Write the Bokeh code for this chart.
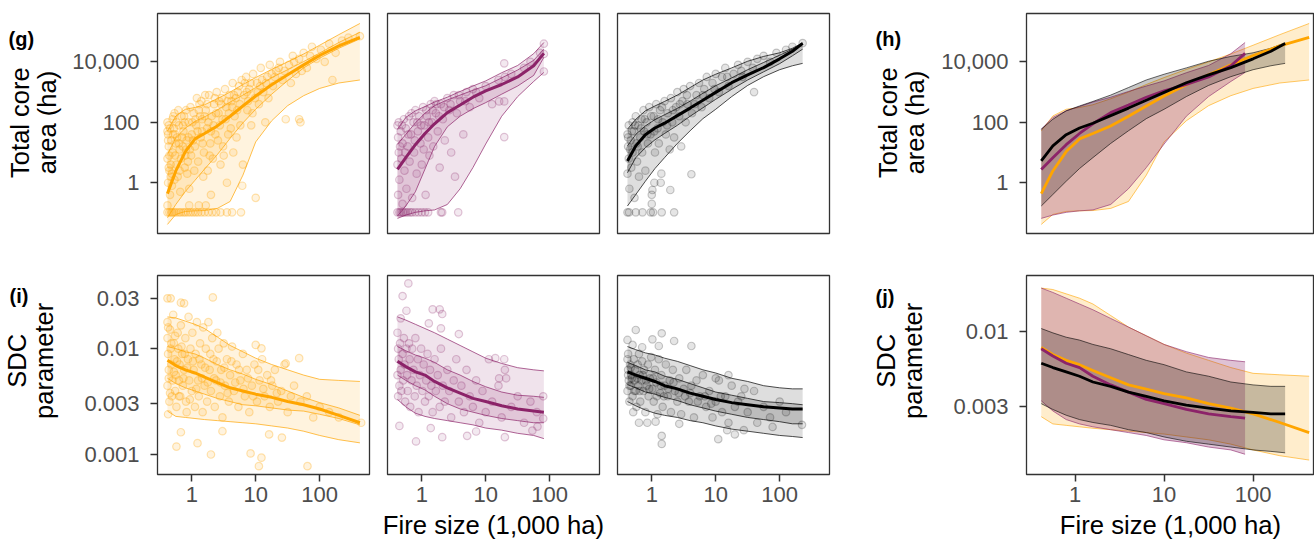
import math
from bokeh.plotting import figure
from bokeh.layouts import row, column
from bokeh.models import Range1d, FixedTicker, NumeralTickFormatter
from bokeh.core.properties import value
from bokeh.embed import file_html
from bokeh.resources import INLINE

ORANGE = "#FFA500"
PURPLE = "#8C2369"
BLACK = "#000000"
FONT = "Liberation Sans"

x_ticks = [1, 10, 100]
core_ticks = [1, 100, 10000]
sdc_ticks = [0.001, 0.003, 0.01, 0.03]
sdc_ticks_j = [0.003, 0.01]
x_title = "Fire size (1,000 ha)"
core_title = ["Total core", "area (ha)"]
sdc_title = ["SDC", "parameter"]
panel_letters = ["(g)", "(h)", "(i)", "(j)"]

# ---------------- fitted curves (log10 values) ----------------
grid_orange_log10 = [-0.38, -0.25, -0.1, 0.05, 0.2, 0.4, 0.6, 0.8, 1.0, 1.25, 1.5, 1.75, 2.0, 2.3, 2.63]
grid_purple_log10 = [-0.38, -0.25, -0.1, 0.05, 0.2, 0.4, 0.6, 0.8, 1.0, 1.25, 1.5, 1.75, 1.91]
grid_black_log10 = [-0.38, -0.25, -0.1, 0.05, 0.2, 0.4, 0.6, 0.8, 1.0, 1.25, 1.5, 1.75, 2.0, 2.2, 2.36]

core_orange_med = [-0.36, 0.39, 1.03, 1.45, 1.63, 1.88, 2.2, 2.54, 2.87, 3.24, 3.57, 3.90, 4.21, 4.53, 4.81]
core_orange_hi95 = [1.71, 2.21, 2.43, 2.49, 2.58, 2.78, 3.0, 3.25, 3.48, 3.75, 4.0, 4.26, 4.55, 4.9, 5.27]
core_orange_hi50 = [0.94, 1.49, 1.81, 2.03, 2.18, 2.41, 2.67, 2.9, 3.15, 3.48, 3.74, 4.01, 4.29, 4.64, 4.98]
core_orange_lo50 = [-1.16, -0.72, -0.29, 0.08, 0.45, 0.93, 1.47, 1.98, 2.43, 2.93, 3.38, 3.8, 4.12, 4.45, 4.76]
core_orange_lo95 = [-1.38, -1.05, -0.95, -0.93, -0.92, -0.85, -0.62, 0.25, 1.35, 2.05, 2.55, 2.88, 3.12, 3.3, 3.4]

core_purple_med = [0.44, 0.83, 1.26, 1.63, 1.95, 2.32, 2.57, 2.83, 3.04, 3.25, 3.5, 3.87, 4.28]
core_purple_hi95 = [1.77, 2.16, 2.38, 2.52, 2.67, 2.83, 3.02, 3.2, 3.37, 3.64, 3.88, 4.27, 4.64]
core_purple_hi50 = [1.27, 1.6, 1.98, 2.3, 2.55, 2.74, 2.9, 3.06, 3.21, 3.47, 3.73, 4.05, 4.42]
core_purple_lo50 = [-1.1, -0.77, -0.3, 0.45, 1.2, 1.85, 2.2, 2.45, 2.65, 2.93, 3.2, 3.55, 4.15]
core_purple_lo95 = [-1.18, -1.07, -0.98, -0.93, -0.9, -0.72, -0.2, 0.5, 1.28, 2.2, 2.85, 3.35, 3.65]

core_black_med = [0.72, 1.22, 1.59, 1.81, 1.97, 2.22, 2.47, 2.73, 2.99, 3.31, 3.57, 3.81, 4.1, 4.35, 4.61]
core_black_hi95 = [1.77, 2.1, 2.38, 2.54, 2.69, 2.9, 3.15, 3.4, 3.59, 3.8, 4.02, 4.18, 4.3, 4.45, 4.63]
core_black_hi50 = [1.22, 1.6, 1.88, 2.09, 2.25, 2.46, 2.7, 2.96, 3.21, 3.47, 3.74, 3.98, 4.22, 4.42, 4.6]
core_black_lo50 = [0.33, 0.83, 1.16, 1.42, 1.63, 1.9, 2.2, 2.48, 2.76, 3.09, 3.4, 3.67, 3.94, 4.2, 4.42]
core_black_lo95 = [-0.77, -0.39, 0.05, 0.47, 0.83, 1.3, 1.72, 2.12, 2.43, 2.85, 3.22, 3.51, 3.74, 3.87, 3.95]

sdc_orange_med = [-2.11, -2.16, -2.20, -2.23, -2.27, -2.32, -2.37, -2.40, -2.43, -2.46, -2.50, -2.53, -2.57, -2.63, -2.70]
sdc_orange_hi95 = [-1.70, -1.71, -1.74, -1.77, -1.81, -1.89, -1.97, -2.03, -2.09, -2.15, -2.20, -2.25, -2.29, -2.30, -2.31]
sdc_orange_hi50 = [-1.98, -2.00, -2.03, -2.05, -2.09, -2.15, -2.20, -2.24, -2.29, -2.34, -2.40, -2.46, -2.51, -2.56, -2.63]
sdc_orange_lo50 = [-2.28, -2.33, -2.37, -2.40, -2.43, -2.47, -2.50, -2.53, -2.54, -2.56, -2.58, -2.59, -2.62, -2.66, -2.72]
sdc_orange_lo95 = [-2.59, -2.64, -2.65, -2.66, -2.67, -2.68, -2.69, -2.70, -2.71, -2.73, -2.75, -2.78, -2.82, -2.86, -2.89]

sdc_purple_med = [-2.12, -2.17, -2.22, -2.25, -2.31, -2.37, -2.42, -2.47, -2.50, -2.54, -2.57, -2.59, -2.60]
sdc_purple_hi95 = [-1.70, -1.73, -1.77, -1.81, -1.85, -1.91, -1.97, -2.03, -2.09, -2.14, -2.18, -2.20, -2.21]
sdc_purple_hi50 = [-1.98, -2.02, -2.06, -2.09, -2.13, -2.20, -2.25, -2.31, -2.36, -2.41, -2.44, -2.45, -2.46]
sdc_purple_lo50 = [-2.25, -2.30, -2.35, -2.39, -2.45, -2.52, -2.57, -2.60, -2.63, -2.66, -2.68, -2.70, -2.70]
sdc_purple_lo95 = [-2.48, -2.55, -2.61, -2.64, -2.66, -2.68, -2.70, -2.72, -2.75, -2.77, -2.80, -2.82, -2.85]

sdc_black_med = [-2.22, -2.25, -2.28, -2.31, -2.35, -2.38, -2.42, -2.45, -2.48, -2.51, -2.53, -2.55, -2.56, -2.57, -2.57]
sdc_black_hi95 = [-1.98, -2.01, -2.04, -2.06, -2.09, -2.12, -2.16, -2.20, -2.23, -2.28, -2.31, -2.35, -2.37, -2.38, -2.38]
sdc_black_hi50 = [-2.13, -2.16, -2.20, -2.22, -2.26, -2.29, -2.33, -2.37, -2.41, -2.44, -2.47, -2.50, -2.51, -2.52, -2.53]
sdc_black_lo50 = [-2.34, -2.37, -2.41, -2.43, -2.46, -2.49, -2.53, -2.56, -2.59, -2.62, -2.65, -2.67, -2.69, -2.71, -2.71]
sdc_black_lo95 = [-2.50, -2.54, -2.58, -2.61, -2.63, -2.65, -2.68, -2.70, -2.73, -2.76, -2.78, -2.80, -2.82, -2.83, -2.84]

# ---------------- observed fires (log10 fire size, log10 value) ----------------
core_orange_pts = [
    (-0.38, -0.98), (-0.35, -0.98), (-0.32, -0.98), (-0.30, -0.98), (-0.27, -0.98), (-0.24, -0.98),
    (-0.20, -0.98), (-0.17, -0.98), (-0.13, -0.98), (-0.10, -0.98), (-0.06, -0.98), (-0.02, -0.98),
    (0.02, -0.98), (0.06, -0.98), (0.10, -0.98), (0.15, -0.98), (0.20, -0.98), (0.26, -0.98),
    (0.32, -0.98), (0.38, -0.98), (0.45, -0.98), (0.55, -0.98), (0.63, -0.98), (0.77, -0.98),
    (-0.38, -0.75), (-0.04, -0.75), (0.11, -0.75), (0.22, -0.75),
    (-0.38, 2.0), (-0.37, 1.6), (-0.36, 1.2), (-0.38, 0.8), (-0.35, 0.4), (-0.37, 0.0), (-0.34, -0.4),
    (-0.36, 1.9), (-0.32, 1.4), (-0.33, 0.6), (-0.30, 1.0), (-0.31, -0.1), (-0.30, 2.1),
    (-0.28, 1.8), (-0.27, 2.3), (-0.25, 1.3), (-0.24, 0.6), (-0.22, 0.2), (-0.20, 1.9), (-0.19, 1.1),
    (-0.18, -0.3), (-0.16, 2.2), (-0.15, 1.5), (-0.26, 0.9), (-0.21, 2.4),
    (-0.13, 1.7), (-0.12, 2.2), (-0.10, 0.9), (-0.08, 1.4), (-0.07, 0.3), (-0.05, 2.0), (-0.03, 1.1),
    (-0.02, 2.5), (0.00, 1.6), (-0.11, 0.5), (-0.04, -0.2),
    (0.03, 2.3), (0.05, 1.2), (0.07, 1.9), (0.10, 0.7), (0.12, 2.6), (0.14, 1.5), (0.16, 2.1),
    (0.18, 0.2), (0.19, 1.0), (0.08, 2.8), (0.15, 2.7),
    (0.22, 2.4), (0.24, 1.8), (0.27, 2.9), (0.29, 1.3), (0.31, 2.2), (0.33, 0.8), (0.35, 2.6),
    (0.37, 1.6), (0.39, 3.0), (0.25, 0.4), (0.30, -0.4),
    (0.42, 2.3), (0.44, 1.9), (0.47, 2.8), (0.49, 1.2), (0.52, 3.1), (0.54, 2.5), (0.57, 1.6),
    (0.59, 2.9), (0.45, 0.6), (0.55, 0.0),
    (0.62, 2.7), (0.64, 3.3), (0.67, 2.2), (0.70, 1.5), (0.72, 3.0), (0.75, 2.6), (0.78, 3.4),
    (0.65, 1.0), (0.80, 0.6),
    (0.82, 2.9), (0.85, 3.5), (0.87, 2.4), (0.90, 3.1), (0.93, 1.9), (0.96, 3.6), (0.99, 2.8),
    (1.02, 3.3), (1.05, 2.6), (1.08, 3.8), (1.12, 3.0), (1.15, 2.0), (1.18, 3.5), (1.22, 3.9), (1.27, 3.2),
    (1.32, 3.7), (1.38, 4.0), (1.42, 3.4), (1.47, 2.1), (1.52, 3.9), (1.58, 4.2), (1.63, 3.6), (1.68, 4.1),
    (1.75, 4.3), (1.80, 3.8), (1.88, 4.5), (1.95, 4.1), (2.02, 4.4), (1.70, 2.0),
    (2.15, 4.6), (2.25, 4.3), (2.35, 4.7), (2.45, 4.8), (2.63, 4.85), (2.20, 3.4),
    (1.68, 2.1), (1.00, -0.5), (0.79, -0.1),
    (-0.37, 1.4), (-0.35, 0.9), (-0.33, 0.2), (-0.29, 1.6), (-0.27, 0.1), (-0.23, 1.5), (-0.19, 0.4),
    (-0.14, 1.2), (-0.09, 2.4), (-0.06, 0.7), (0.01, 2.0), (0.04, 0.4), (0.09, 1.7), (0.13, 2.2),
    (0.17, 1.3), (0.21, 2.9), (0.26, 2.0), (0.28, 0.9), (0.34, 1.9), (0.36, 2.8), (0.41, 1.4),
    (0.46, 2.6), (0.50, 0.9), (0.53, 2.1), (0.58, 2.3), (0.61, 1.8), (0.66, 2.9), (0.71, 2.4),
    (0.76, 1.9), (0.83, 3.3), (0.88, 2.7), (0.95, 2.3), (1.03, 3.0), (1.10, 3.4), (1.20, 2.8),
    (1.30, 3.5), (1.45, 3.7), (1.55, 3.3), (1.72, 3.7), (1.85, 4.2), (2.08, 4.0),
    (-0.38, 1.7), (-0.36, 0.5), (-0.34, 1.8), (-0.31, 0.3), (-0.29, 2.2), (-0.26, 1.6), (-0.24, 2.0),
    (-0.20, 1.3), (-0.17, 0.8), (-0.14, 1.9), (-0.11, 2.0), (-0.09, 1.1), (-0.05, 1.5), (-0.01, 0.9),
    (0.02, 1.4), (0.06, 2.1), (0.11, 2.4), (0.16, 1.7), (0.20, 2.2), (0.24, 2.6), (0.30, 1.7),
    (0.38, 2.3), (0.43, 2.7), (0.48, 2.1), (0.56, 2.7), (0.63, 2.5), (0.69, 2.8), (0.74, 3.2),
    (0.86, 3.0), (0.92, 3.3), (1.07, 3.2), (1.16, 3.3), (1.25, 3.6), (1.36, 3.8), (1.60, 4.0),
]

core_purple_pts = [
    (-0.38, -0.98), (-0.35, -0.98), (-0.33, -0.98), (-0.30, -0.98), (-0.28, -0.98), (-0.25, -0.98),
    (-0.22, -0.98), (-0.18, -0.98), (-0.15, -0.98), (-0.10, -0.98), (-0.05, -0.98), (0.00, -0.98),
    (0.05, -0.98), (0.10, -0.98), (0.30, -0.98), (0.32, -0.98), (0.57, -0.98),
    (-0.38, 1.9), (-0.37, 1.5), (-0.36, 1.0), (-0.38, 0.6), (-0.35, 0.1), (-0.37, -0.4), (-0.33, 1.7),
    (-0.32, 0.8), (-0.30, 1.3), (-0.30, -0.7), (-0.28, 2.1), (-0.27, 0.4), (-0.25, 1.8), (-0.24, -0.2),
    (-0.22, 1.2), (-0.20, 2.2), (-0.19, 0.7), (-0.17, 1.6), (-0.15, -0.5), (-0.13, 2.0), (-0.12, 1.0),
    (-0.10, 2.4), (-0.08, 0.3), (-0.06, 1.7), (-0.04, 2.2), (-0.02, 1.3), (0.00, 0.6), (0.02, 2.5),
    (0.04, 1.9), (0.06, -0.4), (0.08, 2.2), (0.10, 1.5), (0.12, 0.9), (0.14, 2.6), (0.16, 2.0),
    (0.18, 1.2), (0.20, 2.7), (0.22, 2.3), (0.25, 1.7), (0.28, 0.5), (0.30, 2.6), (0.33, 2.1),
    (0.36, 1.4), (0.40, 2.8), (0.43, 2.4), (0.46, 1.0), (0.50, 2.9), (0.52, 0.2), (0.55, 2.3),
    (0.60, 2.7), (0.65, 1.6), (0.70, 3.0), (0.75, 2.5), (0.80, 3.1), (0.90, 2.8), (1.00, 3.2),
    (1.10, 2.6), (1.21, 2.69), (1.29, 2.69), (1.29, 1.51), (1.29, 3.95), (1.20, 3.4), (1.30, 3.5),
    (1.40, 3.6), (1.60, 3.8), (1.70, 4.0), (1.85, 4.3), (1.91, 4.6), (1.91, 3.68), (1.91, 4.26),
    (-0.36, 2.0), (-0.34, 1.2), (-0.31, 1.9), (-0.26, 1.0), (-0.21, 1.6), (-0.16, 2.3), (-0.11, 1.4),
    (-0.07, 2.0), (-0.01, 1.9), (0.03, 1.1), (0.07, 2.4), (0.11, 2.0), (0.17, 2.4), (0.23, 2.6),
    (0.27, 2.2), (0.35, 2.5), (0.45, 2.6), (0.58, 2.9), (0.68, 2.7), (0.85, 3.0),
]

core_black_pts = [
    (-0.38, -0.98), (-0.355, -0.98), (-0.25, -0.98), (-0.146, -0.98), (-0.016, -0.98), (0.02, -0.98),
    (0.156, -0.98), (0.35, -0.98),
    (-0.38, 1.6), (-0.37, 1.2), (-0.36, 0.8), (-0.38, 0.3), (-0.35, -0.2), (-0.36, 1.9), (-0.33, 1.4),
    (-0.32, 0.5), (-0.30, 2.0), (-0.30, 1.0), (-0.28, 1.7), (-0.27, -0.5), (-0.25, 2.2), (-0.24, 1.3),
    (-0.23, 0.7), (-0.21, 1.9), (-0.20, 0.2), (-0.18, 1.5), (-0.16, 2.1), (-0.15, 1.0), (-0.13, 2.4),
    (-0.12, 1.7), (-0.10, 0.4), (-0.08, 2.0), (-0.06, 1.3), (-0.04, 2.5), (-0.02, 1.6), (0.00, -0.4),
    (0.00, -0.7), (0.03, 2.2), (0.05, 1.0), (0.07, 2.6), (0.09, 1.8), (0.11, 1.3), (0.13, 2.4),
    (0.15, 0.3), (0.17, 2.0), (0.20, 2.7), (0.22, 1.6), (0.25, 2.3), (0.28, 1.1), (0.30, 2.8),
    (0.32, 2.0), (0.35, 1.5), (0.38, 2.5), (0.40, 3.0), (0.43, 2.2), (0.46, 1.2), (0.48, 2.7),
    (0.50, 3.1), (0.53, 2.0), (0.56, 2.6), (0.60, 3.2), (0.63, 2.3), (0.62, 0.28), (0.70, 2.9),
    (0.74, 3.3), (0.78, 2.5), (0.82, 3.1), (0.86, 3.5), (0.90, 2.8), (0.95, 3.3), (1.00, 3.6),
    (1.05, 3.0), (1.10, 3.5), (1.15, 3.8), (1.20, 3.2), (1.28, 3.6), (1.35, 3.9), (1.42, 3.5),
    (1.50, 4.0), (1.58, 3.8), (1.65, 4.1), (1.60, 3.0), (1.75, 4.2), (1.85, 4.0), (1.95, 4.3),
    (2.10, 4.4), (2.20, 4.5), (2.36, 4.62),
    (0.04, 0.0), (0.14, 0.0), (0.01, -0.24), (0.29, -0.24),
    (-0.37, 1.5), (-0.34, 1.1), (-0.31, 1.7), (-0.26, 1.9), (-0.22, 1.2), (-0.17, 1.8), (-0.11, 2.1),
    (-0.07, 1.6), (-0.01, 2.2), (0.04, 1.7), (0.10, 2.1), (0.16, 2.5), (0.24, 1.9), (0.33, 2.4),
    (0.44, 2.6), (0.55, 2.9), (0.67, 2.6), (0.80, 2.9), (0.98, 3.1), (1.18, 3.5), (1.40, 3.7),
]

sdc_orange_pts = [
    (-0.38, -1.525), (-0.33, -1.525), (-0.17, -1.566), (-0.12, -1.572), (0.33, -1.516),
    (-0.38, -1.75), (-0.38, -1.9), (-0.37, -2.05), (-0.36, -2.2), (-0.38, -2.35), (-0.35, -2.5),
    (-0.37, -2.62), (-0.34, -1.82), (-0.33, -2.0), (-0.32, -2.15), (-0.30, -2.3), (-0.31, -2.45),
    (-0.29, -1.68), (-0.28, -1.95), (-0.27, -2.1), (-0.26, -2.4), (-0.25, -2.25), (-0.24, -2.55),
    (-0.22, -1.85), (-0.21, -2.0), (-0.20, -2.3), (-0.19, -2.15), (-0.18, -2.45), (-0.17, -1.78),
    (-0.15, -2.05), (-0.14, -2.35), (-0.12, -2.2), (-0.10, -1.9), (-0.09, -2.5), (-0.08, -2.6),
    (-0.06, -2.1), (-0.05, -1.7), (-0.04, -2.3), (-0.02, -2.0), (0.00, -2.4), (0.01, -1.85),
    (0.03, -2.2), (0.05, -2.55), (0.06, -2.05), (0.08, -1.75), (0.10, -2.3), (0.11, -2.45),
    (0.13, -1.95), (0.15, -2.15), (0.17, -2.6), (0.18, -1.8), (0.20, -2.35), (0.22, -2.0),
    (0.24, -2.5), (0.26, -1.75), (0.28, -2.2), (0.30, -2.4), (0.32, -1.9), (0.34, -2.1),
    (0.36, -2.55), (0.38, -2.3), (0.40, -1.85), (0.42, -2.0), (0.44, -2.45), (0.46, -2.2),
    (0.48, -2.65), (0.50, -1.95), (0.52, -2.35), (0.55, -2.1), (0.58, -2.5), (0.60, -2.25),
    (0.63, -1.98), (0.66, -2.4), (0.70, -2.15), (0.73, -2.55), (0.76, -2.3), (0.80, -2.05),
    (0.83, -2.45), (0.86, -2.2), (0.90, -2.6), (0.94, -2.35), (0.98, -2.15), (1.02, -2.5),
    (1.06, -2.3), (1.10, -2.1), (1.14, -2.45), (1.18, -2.25), (1.22, -2.55), (1.26, -2.35),
    (1.30, -2.2), (1.35, -2.5), (1.40, -2.4), (1.45, -2.15), (1.50, -2.6), (1.60, -2.35),
    (1.70, -2.5), (1.80, -2.45), (1.90, -2.65), (2.00, -2.55), (2.15, -2.6), (2.30, -2.65), (2.65, -2.7),
    (-0.24, -2.925), (0.09, -2.893), (0.30, -3.0), (0.92, -2.99), (1.09, -3.03), (1.05, -3.11),
    (1.81, -3.11), (1.21, -2.81), (1.41, -2.84), (0.48, -2.78), (-0.17, -2.79),
    (1.68, -2.09), (1.00, -1.965), (1.09, -1.997), (1.47, -2.14),
    (-0.37, -1.8), (-0.36, -2.28), (-0.34, -2.42), (-0.32, -1.95), (-0.28, -2.22), (-0.26, -1.88),
    (-0.23, -2.12), (-0.20, -2.45), (-0.16, -1.98), (-0.13, -2.28), (-0.11, -2.05), (-0.07, -2.18),
    (-0.03, -2.48), (0.02, -2.12), (0.07, -2.38), (0.12, -2.1), (0.16, -2.28), (0.21, -2.18),
    (0.25, -2.32), (0.29, -2.05), (0.35, -2.28), (0.39, -2.12), (0.45, -2.32), (0.51, -2.18),
    (0.56, -2.42), (0.62, -2.12), (0.68, -2.32), (0.74, -2.2), (0.81, -2.38), (0.88, -2.28),
    (0.96, -2.45), (1.04, -2.2), (1.12, -2.38), (1.24, -2.3), (1.33, -2.42), (1.55, -2.45),
]

sdc_purple_pts = [
    (-0.21, -1.384), (-0.30, -1.503), (-0.24, -1.642), (0.17, -1.629), (0.28, -1.629), (0.32, -1.673),
    (0.30, -1.808), (0.58, -1.862), (-0.33, -1.714), (0.11, -1.761),
    (-0.38, -1.85), (-0.37, -2.0), (-0.36, -2.1), (-0.38, -2.25), (-0.35, -2.35), (-0.37, -2.45),
    (-0.34, -1.95), (-0.33, -2.2), (-0.32, -2.4), (-0.30, -2.05), (-0.29, -2.3), (-0.28, -1.9),
    (-0.27, -2.15), (-0.26, -2.5), (-0.24, -2.0), (-0.23, -2.25), (-0.22, -2.4), (-0.20, -1.95),
    (-0.19, -2.1), (-0.18, -2.55), (-0.16, -2.3), (-0.15, -2.0), (-0.13, -2.2), (-0.11, -2.45),
    (-0.10, -1.9), (-0.08, -2.35), (-0.06, -2.1), (-0.05, -2.6), (-0.03, -2.25), (-0.01, -2.0),
    (0.01, -2.4), (0.03, -2.15), (0.05, -2.5), (0.07, -2.3), (0.09, -2.05), (0.11, -2.45),
    (0.13, -2.2), (0.15, -2.35), (0.17, -2.6), (0.20, -2.1), (0.22, -2.4), (0.25, -2.25),
    (0.28, -2.55), (0.30, -2.0), (0.33, -2.35), (0.36, -2.5), (0.40, -2.2), (0.43, -2.4),
    (0.46, -2.65), (0.50, -2.3), (0.54, -2.1), (0.58, -2.5), (0.62, -2.35), (0.66, -2.6),
    (0.70, -2.2), (0.75, -2.45), (0.80, -2.55), (0.85, -2.3), (0.90, -2.7), (0.95, -2.4),
    (1.00, -2.6), (1.05, -2.1), (1.10, -2.5), (1.20, -2.35), (1.25, -2.65), (1.30, -2.2),
    (1.40, -2.55), (1.50, -2.45), (1.60, -2.7), (1.70, -2.5), (1.80, -2.6), (1.90, -2.45), (1.90, -2.66),
    (-0.35, -2.73), (-0.09, -2.877), (0.14, -2.75), (0.32, -2.836), (0.71, -2.824), (0.85, -2.783),
    (1.30, -2.836), (1.73, -2.774), (1.81, -2.736),
    (1.15, -2.09), (1.29, -2.10), (1.21, -2.28), (1.32, -2.28),
]

sdc_black_pts = [
    (-0.25, -1.824), (0.156, -1.855), (0.01, -1.912), (0.35, -1.928), (0.62, -1.975), (-0.38, -1.918),
    (-0.30, -1.965), (0.11, -1.975), (-0.15, -1.987),
    (0.156, -2.824), (0.156, -2.9), (1.04, -2.855), (-0.20, -2.70), (-0.07, -2.70), (0.06, -2.69),
    (0.43, -2.71), (1.18, -2.77), (1.30, -2.81), (1.44, -2.77), (2.35, -2.72), (1.89, -2.74),
    (-0.38, -2.1), (-0.37, -2.2), (-0.36, -2.3), (-0.38, -2.4), (-0.35, -2.5), (-0.37, -2.05),
    (-0.34, -2.15), (-0.33, -2.35), (-0.32, -2.25), (-0.30, -2.45), (-0.29, -2.6), (-0.28, -2.1),
    (-0.27, -2.3), (-0.26, -2.2), (-0.25, -2.4), (-0.24, -2.55), (-0.22, -2.15), (-0.21, -2.35),
    (-0.20, -2.05), (-0.19, -2.25), (-0.18, -2.5), (-0.16, -2.3), (-0.15, -2.12), (-0.13, -2.4),
    (-0.12, -2.2), (-0.10, -2.6), (-0.08, -2.35), (-0.06, -2.15), (-0.05, -2.45), (-0.03, -2.28),
    (-0.01, -2.08), (0.01, -2.38), (0.03, -2.5), (0.05, -2.2), (0.07, -2.32), (0.09, -2.62),
    (0.11, -2.1), (0.13, -2.42), (0.15, -2.25), (0.17, -2.55), (0.20, -2.35), (0.22, -2.15),
    (0.25, -2.45), (0.28, -2.3), (0.30, -2.6), (0.33, -2.2), (0.36, -2.4), (0.40, -2.5),
    (0.43, -2.28), (0.46, -2.62), (0.50, -2.38), (0.54, -2.2), (0.58, -2.5), (0.62, -2.35),
    (0.66, -2.65), (0.70, -2.3), (0.75, -2.45), (0.80, -2.25), (0.85, -2.55), (0.90, -2.4),
    (0.95, -2.65), (1.00, -2.5), (1.05, -2.3), (1.10, -2.6), (1.15, -2.45), (1.20, -2.7),
    (1.25, -2.35), (1.30, -2.55), (1.40, -2.45), (1.50, -2.6), (1.60, -2.4), (1.65, -2.7),
    (1.75, -2.55), (1.85, -2.65), (2.00, -2.5), (2.10, -2.6), (1.45, -2.38), (1.20, -2.25), (1.00, -2.28),
    (-0.37, -2.25), (-0.35, -2.35), (-0.33, -2.18), (-0.31, -2.28), (-0.27, -2.4), (-0.23, -2.28),
    (-0.19, -2.4), (-0.14, -2.25), (-0.09, -2.3), (-0.04, -2.38), (0.02, -2.28), (0.08, -2.45),
    (0.14, -2.35), (0.19, -2.45), (0.26, -2.38), (0.34, -2.32), (0.42, -2.42), (0.52, -2.45),
    (0.6, -2.42), (0.72, -2.5), (0.83, -2.45), (0.93, -2.52), (1.08, -2.45), (1.35, -2.5),
]

# ---------------- layout (log10 axis limits, pixel sizes) ----------------
X_LOG = (-0.536, 2.78)
X_LOG_R = (-0.546, 2.69)
CORE_LOG = (-1.68, 5.6)
SDC_LOG = (-3.189, -1.309)
SDC_J_LOG = (-2.99, -1.613)
H1, H2 = 248, 295


def P(v):
    return [10.0 ** t for t in v]


def base_fig(w, h, bl, br, bt, bb, xlog, ylog):
    p = figure(width=w, height=h, x_axis_type="log", y_axis_type="log",
               x_range=Range1d(10 ** xlog[0], 10 ** xlog[1]),
               y_range=Range1d(10 ** ylog[0], 10 ** ylog[1]),
               output_backend="svg", toolbar_location=None,
               min_border_left=bl, min_border_right=br, min_border_top=bt, min_border_bottom=bb)
    p.xgrid.visible = False
    p.ygrid.visible = False
    p.outline_line_color = "#333333"
    p.outline_line_width = 1.3
    p.outline_line_alpha = 1.0
    p.background_fill_color = "white"
    p.border_fill_color = "white"
    for ax in (p.xaxis[0], p.yaxis[0]):
        ax.axis_line_color = None
        ax.major_tick_line_color = "#333333"
        ax.major_tick_line_width = 1.5
        ax.major_tick_out = 7
        ax.major_tick_in = 0
        ax.minor_tick_line_color = None
        ax.major_label_text_font = FONT
        ax.major_label_text_font_size = "22px"
        ax.major_label_text_color = "#4D4D4D"
        ax.axis_label_text_font = FONT
        ax.axis_label_text_font_size = "25.7px"
        ax.axis_label_text_font_style = "normal"
        ax.axis_label_text_color = "black"
    return p


def side_fig(w, h):
    p = figure(width=w, height=h, x_range=Range1d(0, w), y_range=Range1d(0, h),
               output_backend="svg", toolbar_location=None,
               min_border_left=0, min_border_right=0, min_border_top=0, min_border_bottom=0)
    p.axis.visible = False
    p.grid.visible = False
    p.outline_line_color = None
    p.background_fill_color = "white"
    p.border_fill_color = "white"
    return p


def side_texts(p, h, letter, lx, lbase, lines, baselines, ycenter):
    # positions in pixels from the top-left of this side strip
    p.text(x=[lx], y=[h - lbase], text=[letter], text_font=value(FONT), text_font_style="bold",
           text_font_size="20px", text_baseline="alphabetic", text_align="left", text_color="black")
    for t, b in zip(lines, baselines):
        p.text(x=[b], y=[h - ycenter], text=[t], angle=math.pi / 2, text_font=value(FONT),
               text_font_size="25.5px", text_baseline="alphabetic", text_align="center",
               text_color="black")


def set_x(p, show, title=None):
    if not show:
        p.xaxis.visible = False
        return
    p.xaxis.ticker = FixedTicker(ticks=x_ticks, minor_ticks=[])
    p.xaxis.formatter = NumeralTickFormatter(format="0,0")
    p.xaxis.major_label_standoff = 5
    p.xaxis.axis_label_standoff = 6
    if title:
        p.xaxis.axis_label = title


def set_y(p, show, ticks=None, fmt=None):
    if not show:
        p.yaxis.visible = False
        return
    p.yaxis.ticker = FixedTicker(ticks=ticks, minor_ticks=[])
    p.yaxis.formatter = NumeralTickFormatter(format=fmt)
    p.yaxis.major_label_standoff = 11


def obs_panel(p, pts, grid, med, hi95, hi50, lo50, lo95, color, pt_line_alpha=0.25, pt_fill_alpha=0.1):
    xs = P([a for a, b in pts])
    ys = P([b for a, b in pts])
    p.scatter(xs, ys, marker="circle", size=7.5, fill_color=color, fill_alpha=pt_fill_alpha,
              line_color=color, line_alpha=pt_line_alpha, line_width=1.2)
    gx = P(grid)
    p.varea(x=gx, y1=P(lo95), y2=P(hi95), fill_color=color, fill_alpha=0.13)
    p.varea(x=gx, y1=P(lo50), y2=P(hi50), fill_color=color, fill_alpha=0.15)
    for c in (hi95, hi50, lo50, lo95):
        p.line(gx, P(c), line_color=color, line_width=0.7)
    p.line(gx, P(med), line_color=color, line_width=3)


def summary_panel(p, groups):
    for grid, med, hi, lo, color, alpha in groups:
        gx = P(grid)
        p.varea(x=gx, y1=P(lo), y2=P(hi), fill_color=color, fill_alpha=alpha)
        p.line(gx, P(hi), line_color=color, line_width=0.6)
        p.line(gx, P(lo), line_color=color, line_width=0.6)
    for grid, med, hi, lo, color, alpha in groups:
        p.line(P(grid), P(med), line_color=color, line_width=2.8)


# ---- row 1 : total core area ----
sL1 = side_fig(66, H1)
g1 = base_fig(312, H1, 91, 9, 13, 15, X_LOG, CORE_LOG)
g2 = base_fig(230, H1, 9, 9, 13, 15, X_LOG, CORE_LOG)
g3 = base_fig(230, H1, 9, 9, 13, 15, X_LOG, CORE_LOG)
sR1 = side_fig(97, H1)
h1 = base_fig(379, H1, 91, 0, 13, 15, X_LOG_R, CORE_LOG)

obs_panel(g1, core_orange_pts, grid_orange_log10, core_orange_med, core_orange_hi95, core_orange_hi50,
          core_orange_lo50, core_orange_lo95, ORANGE, 0.3, 0.13)
obs_panel(g2, core_purple_pts, grid_purple_log10, core_purple_med, core_purple_hi95, core_purple_hi50,
          core_purple_lo50, core_purple_lo95, PURPLE)
obs_panel(g3, core_black_pts, grid_black_log10, core_black_med, core_black_hi95, core_black_hi50,
          core_black_lo50, core_black_lo95, BLACK, 0.2)
summary_panel(h1, [
    (grid_orange_log10, core_orange_med, core_orange_hi95, core_orange_lo95, ORANGE, 0.2),
    (grid_purple_log10, core_purple_med, core_purple_hi95, core_purple_lo95, PURPLE, 0.28),
    (grid_black_log10, core_black_med, core_black_hi95, core_black_lo95, BLACK, 0.22),
])

for p in (g1, g2, g3, h1):
    set_x(p, False)
set_y(g1, True, core_ticks, "0,0")
set_y(g2, False)
set_y(g3, False)
set_y(h1, True, core_ticks, "0,0")
side_texts(sL1, H1, panel_letters[0], 8, 28.5, core_title, [19, 46], 123)
side_texts(sR1, H1, panel_letters[1], 37, 28.5, core_title, [49.5, 76.5], 123)

# ---- row 2 : SDC parameter ----
sL2 = side_fig(66, H2)
i1 = base_fig(312, H2, 91, 9, 27, 69, X_LOG, SDC_LOG)
i2 = base_fig(230, H2, 9, 9, 27, 69, X_LOG, SDC_LOG)
i3 = base_fig(230, H2, 9, 9, 27, 69, X_LOG, SDC_LOG)
sR2 = side_fig(97, H2)
j1 = base_fig(379, H2, 91, 0, 27, 69, X_LOG_R, SDC_J_LOG)

obs_panel(i1, sdc_orange_pts, grid_orange_log10, sdc_orange_med, sdc_orange_hi95, sdc_orange_hi50,
          sdc_orange_lo50, sdc_orange_lo95, ORANGE, 0.3, 0.13)
obs_panel(i2, sdc_purple_pts, grid_purple_log10, sdc_purple_med, sdc_purple_hi95, sdc_purple_hi50,
          sdc_purple_lo50, sdc_purple_lo95, PURPLE)
obs_panel(i3, sdc_black_pts, grid_black_log10, sdc_black_med, sdc_black_hi95, sdc_black_hi50,
          sdc_black_lo50, sdc_black_lo95, BLACK, 0.2)
summary_panel(j1, [
    (grid_orange_log10, sdc_orange_med, sdc_orange_hi95, sdc_orange_lo95, ORANGE, 0.2),
    (grid_purple_log10, sdc_purple_med, sdc_purple_hi95, sdc_purple_lo95, PURPLE, 0.28),
    (grid_black_log10, sdc_black_med, sdc_black_hi95, sdc_black_lo95, BLACK, 0.22),
])

set_x(i1, True)
set_x(i2, True, x_title)
set_x(i3, True)
set_x(j1, True, x_title)
set_y(i1, True, sdc_ticks, "0.[000]")
set_y(i2, False)
set_y(i3, False)
set_y(j1, True, sdc_ticks_j, "0.[000]")
side_texts(sL2, H2, panel_letters[2], 9, 31, sdc_title, [16.5, 43.5], 126.5)
side_texts(sR2, H2, panel_letters[3], 37, 32.5, sdc_title, [47, 74], 126.5)

layout = column(row(sL1, g1, g2, g3, sR1, h1), row(sL2, i1, i2, i3, sR2, j1))
open("out.html", "w").write(file_html(layout, INLINE))
